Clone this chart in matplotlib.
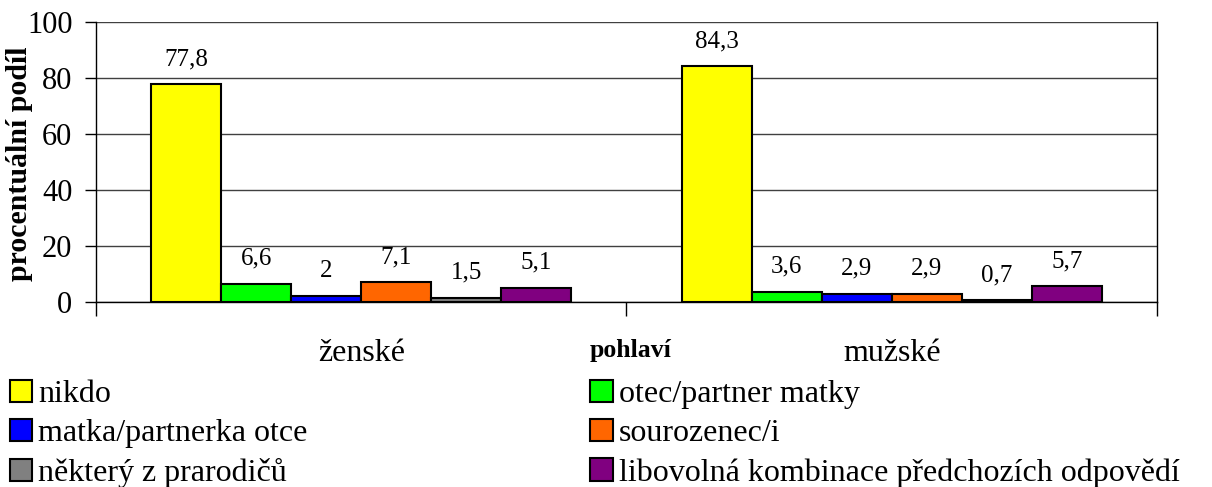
import numpy as np
import matplotlib
matplotlib.use("Agg")
import matplotlib.pyplot as plt
from matplotlib.patches import Patch

plt.rcParams['font.family'] = ['Liberation Serif', 'DejaVu Serif']

groups = ['ženské', 'mužské']
series = ['nikdo', 'otec/partner matky', 'matka/partnerka otce',
          'sourozenec/i', 'některý z prarodičů',
          'libovolná kombinace předchozích odpovědí']
values = [
    [77.8, 84.3],
    [6.6, 3.6],
    [2.0, 2.9],
    [7.1, 2.9],
    [1.5, 0.7],
    [5.1, 5.7],
]
colors = ['#FFFF00', '#00FF00', '#0000FF', '#FF6600', '#808080', '#800080']

fig = plt.figure(figsize=(12.12, 4.87), dpi=100)
ax = fig.add_axes([0.0792, 0.3799, 0.8754, 0.5749])

x = np.arange(len(groups))
w = 0.132
for i, (name, vals, c) in enumerate(zip(series, values, colors)):
    pos = x + (i - 2.5) * w
    ax.bar(pos, vals, w, color=c, edgecolor='black', linewidth=1.5, zorder=3)
    for px, v in zip(pos, vals):
        txt = ('%g' % v).replace('.', ',')
        ax.text(px, v + 5, txt, ha='center', va='bottom', fontsize=18, zorder=4)

ax.set_xlim(-0.5, 1.5)
ax.set_ylim(0, 100)
ax.set_yticks([0, 20, 40, 60, 80, 100])
ax.tick_params(axis='y', labelsize=22, length=8, width=1, pad=9)
ax.yaxis.grid(True, color='#404040', linewidth=1, zorder=0)
ax.set_axisbelow(True)

ax.set_xticks([-0.5, 0.5, 1.5])
ax.set_xticklabels([])
ax.tick_params(axis='x', which='major', length=10, width=1)
ax.set_xticks(x, minor=True)
ax.set_xticklabels(groups, minor=True)
ax.tick_params(axis='x', which='minor', length=0, labelsize=23, pad=27)

ax.spines['top'].set_visible(False)
for s in ['left', 'right', 'bottom']:
    ax.spines[s].set_linewidth(1)

fig.text(20 / 1212, 1 - 164 / 487, 'procentuální podíl', rotation=90,
         ha='center', va='center', fontsize=21.5, fontweight='bold')
fig.text(631 / 1212, 1 - 350 / 487, 'pohlaví', ha='center', va='center',
         fontsize=18.5, fontweight='bold')

handles = [Patch(facecolor=c, edgecolor='black', linewidth=1.5) for c in colors]
order = [0, 2, 4, 1, 3, 5]
fig.legend([handles[i] for i in order], [series[i] for i in order],
           ncol=2, loc='upper left', bbox_to_anchor=(0.0, 0.24),
           frameon=False, fontsize=23, handlelength=0.7, handleheight=0.7,
           handletextpad=0.2, columnspacing=8.85, labelspacing=0.31,
           borderpad=0.1, borderaxespad=0.2)

fig.savefig('out.png', dpi=100)
